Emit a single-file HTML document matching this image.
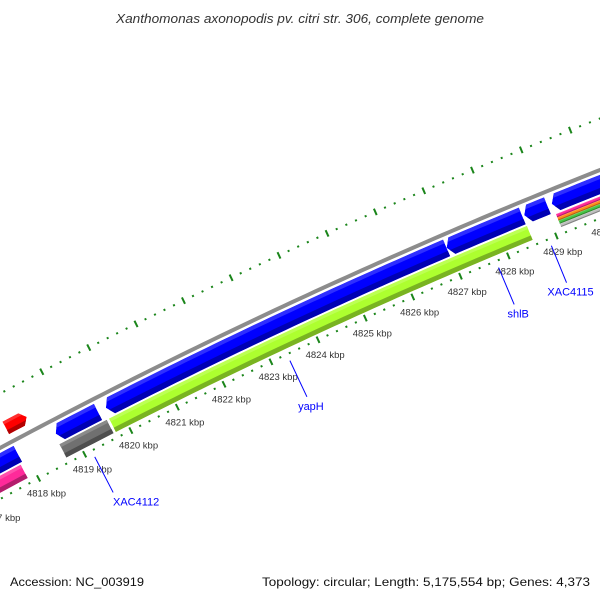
<!DOCTYPE html>
<html><head><meta charset="utf-8"><style>
html,body{margin:0;padding:0;background:#fff;}
svg{display:block;font-family:"Liberation Sans",sans-serif;}
</style></head><body>
<svg id="chart" width="600" height="600" viewBox="0 0 600 600" xmlns="http://www.w3.org/2000/svg">
<rect width="600" height="600" fill="#fff"/>
<text x="300" y="23" text-anchor="middle" font-size="13" font-style="italic" fill="#333" textLength="368" lengthAdjust="spacingAndGlyphs">Xanthomonas axonopodis pv. citri str. 306, complete genome</text>
<g id="map"></g>
<text x="10" y="586" font-size="12" fill="#111" textLength="134" lengthAdjust="spacingAndGlyphs">Accession: NC_003919</text>
<text x="590" y="586" font-size="12" fill="#111" text-anchor="end" textLength="328" lengthAdjust="spacingAndGlyphs">Topology: circular; Length: 5,175,554 bp; Genes: 4,373</text>
</svg>
<script>
// ---- data (kbp) ----
const featStart = [4816.0, 4818.69, 4819.77, 4826.97, 4828.58, 4829.15, 4817.9, 4815.0, 4818.66, 4819.73, 4829.15, 4829.15, 4829.15, 4829.15];
const featEnd   = [4817.87, 4819.6, 4826.97, 4828.54, 4829.06, 4832.0, 4818.35, 4817.82, 4819.68, 4828.55, 4832.0, 4832.0, 4832.0, 4832.0];
const featStrand = [-1, -1, -1, -1, -1, -1, 1, 0, 0, 0, 0, 0, 0, 0];
const featRing = ['blue','blue','blue','blue','blue','blue','outer','inner','inner','inner','s1','s2','s3','s4'];
const featColor = ['#0000ff','#0000ff','#0000ff','#0000ff','#0000ff','#0000ff','#ff0000','#ff2a9a','#707070','#adff2f','#ff2a9a','#ff8c1a','#44c444','#bdbdbd'];
const featName = ['gene-left','gene-xac4112-region','gene-long-a','gene-long-b','gene-small','gene-right','gene-red','gene-pink','gene-gray','gene-yaph','stripe-pink','stripe-orange','stripe-green','stripe-gray'];
const rulerStart = 4814;
const rulerEnd = 4834;
const labelNames = ['XAC4112','yapH','shlB','XAC4115'];
const labelPos = [4819.15, 4823.34, 4827.74, 4828.84];

// ---- geometry ----
const NS = 'http://www.w3.org/2000/svg';
const A=[0,448], B=[600,170], sag=9.5;
const cv=[B[0]-A[0],B[1]-A[1]], L=Math.hypot(cv[0],cv[1]);
const nrm=[-cv[1]/L, cv[0]/L]; // inward (down-right)
const R0 = L*L/(8*sag)+sag/2;
const M=[(A[0]+B[0])/2-sag*nrm[0], (A[1]+B[1])/2-sag*nrm[1]];
const C=[M[0]+R0*nrm[0], M[1]+R0*nrm[1]];
const thRef = Math.atan2(455-C[1], 85-C[0]);
const k = 52/(R0-45);
const ringD = {outer:[-15,14], blue:[13.5,18], inner:[32,15], s1:[26.3,3.4], s2:[29.8,3.4], s3:[33.3,3.4], s4:[36.8,3.4]};
function P(bp,d){const t=thRef+(bp-4819)*k, r=R0-d; return [C[0]+r*Math.cos(t), C[1]+r*Math.sin(t)];}
function arc(b1,b2,d){const n=Math.max(2,Math.ceil(Math.abs(b2-b1)*6));const o=[];for(let i=0;i<=n;i++)o.push(P(b1+(b2-b1)*i/n,d));return o;}
function ptsStr(p){return p.map(q=>q[0].toFixed(2)+','+q[1].toFixed(2)).join(' ');}
function shape(b1,b2,d,h,dir){
  const hl=Math.min(0.11,(b2-b1)/2), o=d-h/2, i=d+h/2;
  let p=[];
  if(dir<0){p.push(P(b1,d));p=p.concat(arc(b1+hl,b2,o));p=p.concat(arc(b2,b1+hl,i));}
  else if(dir>0){p=p.concat(arc(b1,b2-hl,o));p.push(P(b2,d));p=p.concat(arc(b2-hl,b1,i));}
  else{p=p.concat(arc(b1,b2,o));p=p.concat(arc(b2,b1,i));}
  return p;
}
function band(b1,b2,d1,d2){return arc(b1,b2,d1).concat(arc(b2,b1,d2));}
function shade(hex,f){const v=parseInt(hex.slice(1),16);let r=v>>16,g=(v>>8)&255,b=v&255;
  const m=x=>Math.max(0,Math.min(255,Math.round(f<1?x*f:x+(255-x)*(f-1))));return 'rgb('+m(r)+','+m(g)+','+m(b)+')';}
const map=document.getElementById('map');
function el(tag,attrs,parent){const e=document.createElementNS(NS,tag);for(const a in attrs)e.setAttribute(a,attrs[a]);(parent||map).appendChild(e);return e;}

// rulers
for(const dR of [-48,45]){
  const g=el('g',{});
  
  
  for(let s=0;s<=(rulerEnd-rulerStart)*5;s++){
    const bp=rulerStart+s/5, major=(s%5===0);
    const a=P(bp,dR-(major?3.5:1)), b=P(bp,dR+(major?3.5:1));
    const ln=el('line',{x1:a[0],y1:a[1],x2:b[0],y2:b[1],stroke:'#1a851a','stroke-width':2},g);
    
    
    if(major && dR>0){
      const q=P(bp,62);
      const t=el('text',{x:q[0],y:q[1]+3,'text-anchor':'middle','font-size':9.5,fill:'#333'},g);
      t.textContent=Math.round(bp)+' kbp';
      
      
    }
  }
}
// backbone
const bb=el('polyline',{points:ptsStr(arc(rulerStart,rulerEnd,0)),fill:'none',stroke:'#8c8c8c','stroke-width':4});



// features
let defs=el('defs',{});
featStart.forEach((b1,i)=>{
  const b2=featEnd[i], [d,h]=ringD[featRing[i]], col=featColor[i];
  const shp=shape(b1,b2,d,h,featStrand[i]);
  const cp=el('clipPath',{id:'cp'+i},defs);
  el('polygon',{points:ptsStr(shp)},cp);
  const g=el('g',{'clip-path':'url(#cp'+i+')'});
  
  
  el('polygon',{points:ptsStr(shp),fill:col},g);
  el('polygon',{points:ptsStr(band(b1-0.2,b2+0.2,d-h/2-1,d-h*0.28)),fill:shade(col,1.18)},g);
  el('polygon',{points:ptsStr(band(b1-0.2,b2+0.2,d+h*0.18,d+h/2+1)),fill:shade(col,0.7)},g);
});

// gene labels
labelNames.forEach((nm,i)=>{
  const bp=labelPos[i], a=P(bp,52), b=P(bp,92);
  const ln=el('line',{x1:a[0],y1:a[1],x2:b[0],y2:b[1],stroke:'#0000ff','stroke-width':1});
  
  
  const dx = i===0 ? 23 : 4;
  const t=el('text',{x:b[0]+dx,y:b[1]+13,'text-anchor':'middle','font-size':11,fill:'#0000ff'});
  t.textContent=nm;
  
  
});
</script>
</body></html>
